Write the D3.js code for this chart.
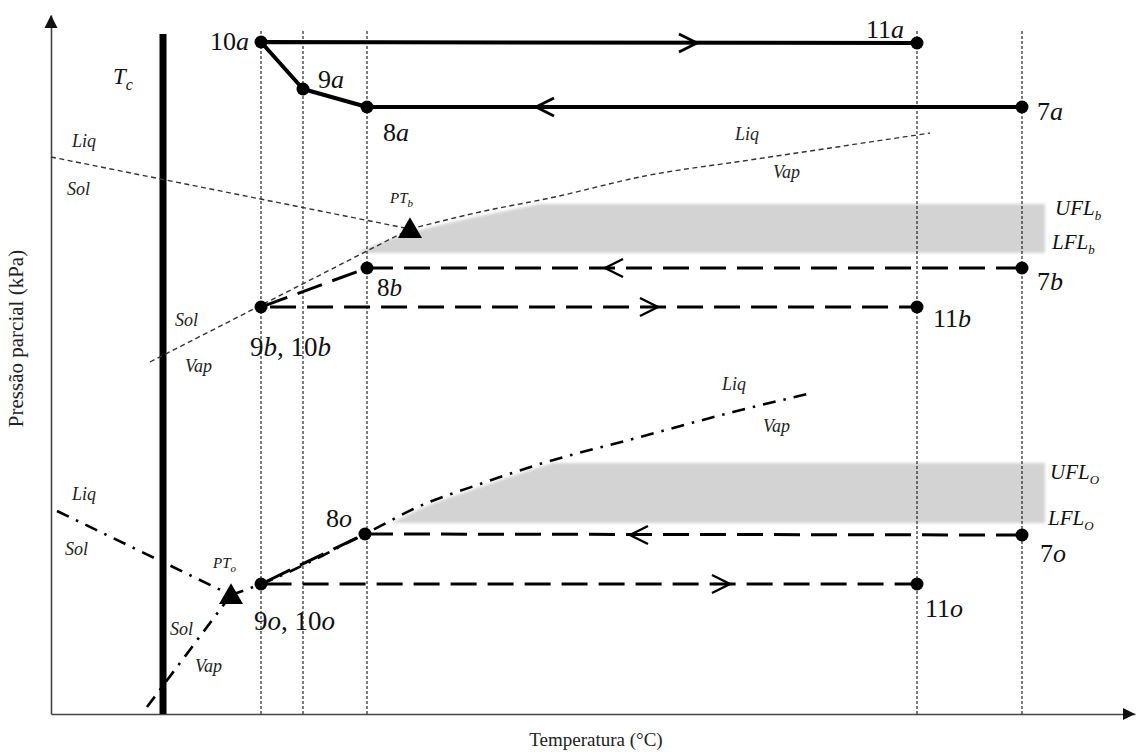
<!DOCTYPE html>
<html>
<head>
<meta charset="utf-8">
<script src="https://cdn.jsdelivr.net/npm/d3@7"></script>
<style>
  html, body { margin: 0; padding: 0; background: #fff; }
  text { font-family: 'Liberation Serif', 'Times New Roman', Times, 'DejaVu Serif', serif; }
</style>
</head>
<body>
<svg id="chart" width="1137" height="756"></svg>
<script>
// Relative temperature / partial-pressure units of the schematic diagram.
const guideTemps = [210, 252, 316, 866, 971];   // dotted isotherms
const critTemp = 112;                            // T_c

// State points of the three cycles: [label, temperature, pressure]
const cycleA = [["7a", 971, 607], ["8a", 316, 607], ["9a", 252, 625], ["10a", 210, 672], ["11a", 866, 671]];
const cycleB = [["7b", 971, 446], ["8b", 316, 446], ["9b, 10b", 210, 407], ["11b", 866, 407]];
const cycleO = [["7o", 971, 179], ["8o", 314, 180], ["9o, 10o", 210, 130], ["11o", 866, 130]];

// Direction marks along the cycles: [temperature of tip, pressure, direction]
const arrowsA = [[646, 671, 1], [485, 607, -1]];
const arrowsB = [[554, 446, -1], [607, 407, 1]];
const arrowsO = [[579, 179, -1], [679, 130, 1]];

// Phase boundaries of substance b (fine dashed)
const triplePointB = [359, 485];
const solLiqB = [[0, 557], [359, 485]];
const solVapB = [[99, 352], [359, 485]];
const liqVapB = [[359, 485], [429, 502], [499, 516], [599, 539], [699, 554], [799, 569], [879, 581]];

// Phase boundaries of substance o (dash-dot)
const triplePointO = [180, 119];
const solLiqO = [[6, 203], [180, 119]];
const solVapO = [[96, 7], [180, 119]];
const liqVapO = [[180, 119], [210, 130], [314, 180], [369, 208], [429, 230], [489, 250], [589, 277], [682, 302], [761, 321]];

// Flammability limits: [LFL, UFL] and the temperature where the bands end
const flamB = [461, 510];
const flamO = [191, 251];
const bandEndTemp = 994;

// Phase-region notes: [text, temperature, pressure]
const regionNotes = [
  ["Liq", 21, 567], ["Sol", 16, 519], ["Sol", 124, 388], ["Vap", 134, 342],
  ["Liq", 684, 574], ["Vap", 722, 536],
  ["Liq", 21, 214], ["Sol", 14, 159], ["Sol", 119, 79], ["Vap", 144, 42],
  ["Liq", 671, 324], ["Vap", 712, 282]
];

const svg = d3.select("#chart");
const x = d3.scaleLinear().domain([0, 1084]).range([51, 1135]);
const y = d3.scaleLinear().domain([0, 699]).range([714, 15]);
const line = d3.line().x(d => x(d[0])).y(d => y(d[1]));
const smooth = d3.line().x(d => x(d[0])).y(d => y(d[1])).curve(d3.curveMonotoneX);

const defs = svg.append("defs");
defs.append("filter").attr("id", "soft")
  .attr("x", "-5%").attr("y", "-30%").attr("width", "110%").attr("height", "160%")
  .append("feGaussianBlur").attr("stdDeviation", 1.4);

// Grey flammable zones, kept below the liquid–vapour curve
function flammableBand(id, limits, boundary, shift) {
  const last = boundary[boundary.length - 1];
  const pts = boundary.concat([[x.domain()[1], last[1]]]);
  defs.append("clipPath").attr("id", id)
    .append("path")
    .attr("transform", `translate(0,${shift})`)
    .attr("d", d3.area().x(d => x(d[0])).y0(y(0)).y1(d => y(d[1])).curve(d3.curveMonotoneX)(pts));
  svg.append("g").attr("filter", "url(#soft)")
    .append("rect")
    .attr("clip-path", `url(#${id})`)
    .attr("x", x(0)).attr("width", x(bandEndTemp) - x(0))
    .attr("y", y(limits[1])).attr("height", y(limits[0]) - y(limits[1]))
    .attr("fill", "#d3d3d3");
}
flammableBand("clipB", flamB, solVapB.concat(liqVapB.slice(1)), 4);
flammableBand("clipO", flamO, solVapO.concat(liqVapO.slice(1)), 3);

// Dotted isotherms
svg.append("g").selectAll("line").data(guideTemps).join("line")
  .attr("x1", d => x(d)).attr("x2", d => x(d))
  .attr("y1", y(0)).attr("y2", y(684))
  .attr("stroke", "#111").attr("stroke-width", 1.1).attr("stroke-dasharray", "3,2");

// Axes (no ticks) with arrow heads
svg.append("g").attr("transform", `translate(0,${y(0)})`)
  .call(d3.axisBottom(x).tickValues([]).tickSizeOuter(0))
  .select(".domain").attr("stroke", "#444").attr("stroke-width", 1.6);
svg.append("g").attr("transform", `translate(${x(0)},0)`)
  .call(d3.axisLeft(y).tickValues([]).tickSizeOuter(0))
  .select(".domain").attr("stroke", "#444").attr("stroke-width", 1.6);
svg.append("path")
  .attr("d", `M${x(0)},${y(699)} l-6.5,13 l13,0 Z`).attr("fill", "#111");
svg.append("path")
  .attr("d", `M${x(1084)},${y(0)} l-12,-6 l0,12 Z`).attr("fill", "#111");

svg.append("text")
  .attr("transform", `translate(23,${(y(0) + y(699)) / 2 - 26}) rotate(-90)`)
  .attr("text-anchor", "middle").attr("font-size", 21).attr("fill", "#222")
  .text("Pressão parcial (kPa)");
svg.append("text")
  .attr("x", (x(0) + x(1084)) / 2 + 3).attr("y", 746)
  .attr("text-anchor", "middle").attr("font-size", 19).attr("fill", "#222")
  .text("Temperatura (°C)");

// Critical temperature line
svg.append("line")
  .attr("x1", x(critTemp)).attr("x2", x(critTemp))
  .attr("y1", y(0)).attr("y2", y(680))
  .attr("stroke", "#000").attr("stroke-width", 7);

// Phase boundaries b
const gB = svg.append("g").attr("fill", "none").attr("stroke", "#333")
  .attr("stroke-width", 1.4).attr("stroke-dasharray", "5,3.5");
gB.append("path").attr("d", line(solLiqB));
gB.append("path").attr("d", line(solVapB));
gB.append("path").attr("d", smooth(liqVapB));

// Phase boundaries o
const gO = svg.append("g").attr("fill", "none").attr("stroke", "#000")
  .attr("stroke-width", 2.6).attr("stroke-dasharray", "13,8,2.5,8");
gO.append("path").attr("d", line(solLiqO));
gO.append("path").attr("d", line(solVapO));
gO.append("path").attr("d", smooth(liqVapO));

// Cycles
function drawCycle(points, arrows, dashed) {
  const g = svg.append("g");
  g.append("path")
    .attr("d", line(points.map(p => [p[1], p[2]])))
    .attr("fill", "none").attr("stroke", "#000")
    .attr("stroke-width", dashed ? 3 : 4)
    .attr("stroke-dasharray", dashed ? "26,11" : null)
    .attr("stroke-linejoin", "round");
  g.selectAll("path.arrow").data(arrows).join("path")
    .attr("class", "arrow")
    .attr("d", d => {
      const tx = x(d[0]), ty = y(d[1]), b = -d[2] * 18;
      return `M${tx + b},${ty - 9} L${tx},${ty} L${tx + b},${ty + 9}`;
    })
    .attr("fill", "none").attr("stroke", "#000").attr("stroke-width", dashed ? 2.4 : 2.8);
  g.selectAll("circle").data(points).join("circle")
    .attr("cx", d => x(d[1])).attr("cy", d => y(d[2])).attr("r", 6.5).attr("fill", "#000");
}
drawCycle(cycleA, arrowsA, false);
drawCycle(cycleB, arrowsB, true);
drawCycle(cycleO, arrowsO, true);

// Triple points
svg.selectAll("path.tp").data([triplePointB, triplePointO]).join("path")
  .attr("class", "tp")
  .attr("transform", d => `translate(${x(d[0])},${y(d[1]) + 2})`)
  .attr("d", d3.symbol(d3.symbolTriangle, 250))
  .attr("fill", "#000");

// Labels: digits upright, letters in math italic
function mathText(sel, str) {
  (str.match(/[A-Za-z]+|[^A-Za-z]+/g) || []).forEach(run => {
    sel.append("tspan").attr("font-style", /[A-Za-z]/.test(run) ? "italic" : "normal").text(run);
  });
}
const labelPlace = {
  "7a": [15, 13, "start", 26], "8a": [16, 34, "start", 26], "9a": [15, -1, "start", 26],
  "10a": [-12, 8, "end", 26], "11a": [-13, -5, "end", 26],
  "7b": [15, 22, "start", 26], "8b": [10, 28, "start", 25], "9b, 10b": [-11, 49, "start", 27],
  "11b": [16, 20, "start", 26],
  "7o": [18, 27, "start", 26], "8o": [-13, -7, "end", 26], "9o, 10o": [-7, 46, "start", 27],
  "11o": [8, 33, "start", 26]
};
cycleA.concat(cycleB, cycleO).forEach(p => {
  const [dx, dy, anchor, size] = labelPlace[p[0]];
  const t = svg.append("text")
    .attr("x", x(p[1]) + dx).attr("y", y(p[2]) + dy)
    .attr("text-anchor", anchor).attr("font-size", size).attr("fill", "#111");
  mathText(t, p[0]);
});

// Subscripted symbols
function subText(px, py, main, sub, size, subSize) {
  const t = svg.append("text").attr("x", px).attr("y", py)
    .attr("font-size", size).attr("font-style", "italic").attr("fill", "#111");
  t.append("tspan").text(main);
  t.append("tspan").attr("font-size", subSize).attr("dy", size * 0.25).text(sub);
}
subText(x(critTemp) - 50, 84, "T", "c", 23, 16);
subText(x(triplePointB[0]) - 20, y(triplePointB[1]) - 26, "PT", "b", 15, 11);
subText(x(triplePointO[0]) - 18, y(triplePointO[1]) - 27, "PT", "o", 15, 11);
subText(x(bandEndTemp) + 10, y(flamB[1]) + 11, "UFL", "b", 21, 13);
subText(x(bandEndTemp) + 7, y(flamB[0]) - 4, "LFL", "b", 21, 13);
subText(x(bandEndTemp) + 5, y(flamO[1]) + 16, "UFL", "O", 21, 13);
subText(x(bandEndTemp) + 3, y(flamO[0]) + 2, "LFL", "O", 21, 13);

// Region names
svg.append("g").selectAll("text").data(regionNotes).join("text")
  .attr("x", d => x(d[1])).attr("y", d => y(d[2]))
  .attr("font-size", 18).attr("font-style", "italic").attr("fill", "#222")
  .text(d => d[0]);
</script>
</body>
</html>
